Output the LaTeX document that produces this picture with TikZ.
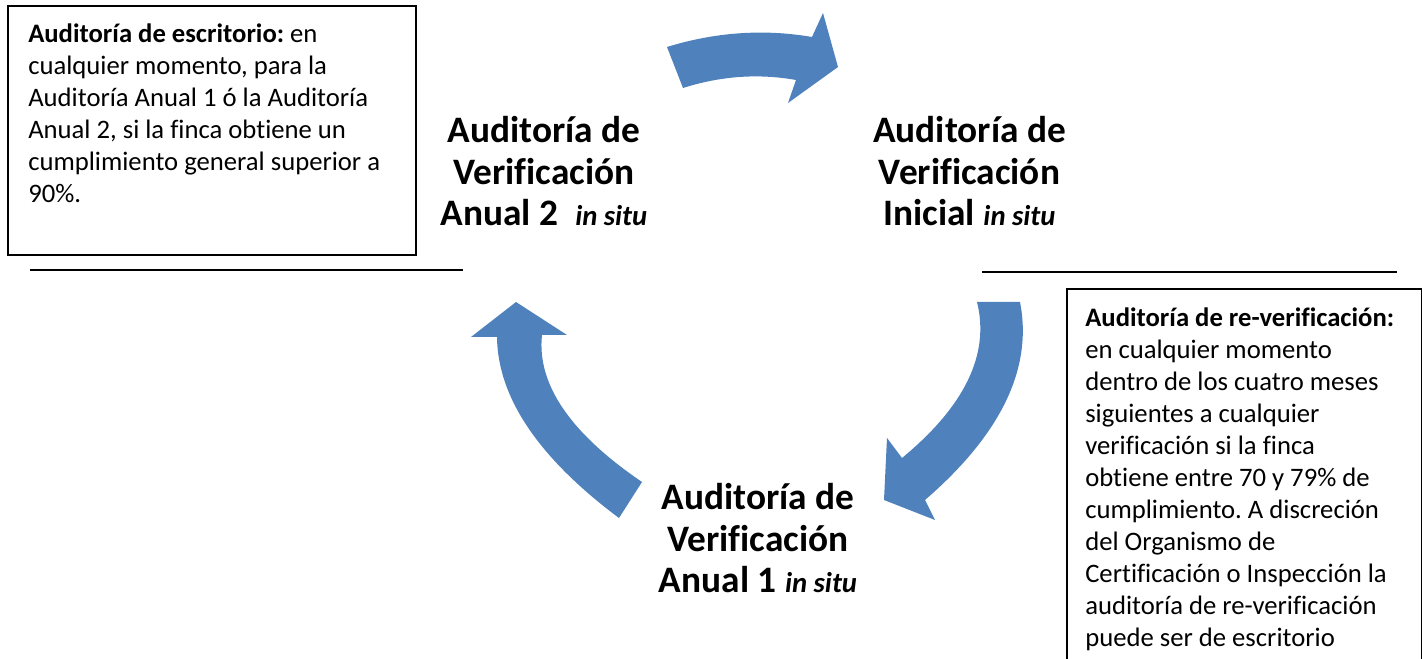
\documentclass[tikz,border=0pt]{standalone}
\usepackage{fontspec}
\setmainfont{Carlito}[Ligatures={NoCommon}]
\definecolor{arrowblue}{HTML}{4F81BD}
\newcommand{\insitu}[1]{{\fontsize{21.5}{24}\selectfont\itshape #1}}
\frenchspacing
\begin{document}
\begin{tikzpicture}[x=0.75pt,y=-0.75pt,
  body/.style={font=\fontsize{20}{24}\selectfont, align=left, anchor=north west, inner sep=0pt},
  big/.style={font=\fontsize{28}{31.3}\selectfont\bfseries, align=center, anchor=north, inner sep=0pt},
  framebox/.style={draw, line width=1.3pt, inner sep=0pt, anchor=north west},
  sepline/.style={line width=1.5pt},
  arrowshape/.style={fill=arrowblue}]
\useasboundingbox (0,0) rectangle (1422,659);
\clip (0,0) rectangle (1422,659);

% boxes
\node[framebox, minimum width=306pt, minimum height=186.75pt] (boxL) at (7,5) {};
\node[framebox, minimum width=266.25pt, minimum height=300pt] (boxR) at (1066,288) {};

\node[body] (txtL) at (28,18) {\rule{0pt}{18pt}\textbf{Auditoría de escritorio:} en\\
cualquier momento, para la\\
Auditoría Anual 1 ó la Auditoría\\
Anual 2, si la finca obtiene un\\
cumplimiento general superior a\\
90\%.};

\node[body] (txtR) at (1085,302) {\rule{0pt}{18pt}\textbf{Auditoría de re-verificación:}\\
en cualquier momento\\
dentro de los cuatro meses\\
siguientes a cualquier\\
verificación si la finca\\
obtiene entre 70 y 79\% de\\
cumplimiento. A discreción\\
del Organismo de\\
Certificación o Inspección la\\
auditoría de re-verificación\\
puede ser de escritorio};

% separator lines
\coordinate (l1a) at (30,270);
\coordinate (l1b) at (463,270);
\coordinate (l2a) at (982,272);
\coordinate (l2b) at (1397,272);
\draw[sepline] (l1a) -- (l1b);
\draw[sepline] (l2a) -- (l2b);

% stage labels
\node[big] (anual2) at (544,108.7) {\rule{0pt}{25pt}Auditoría de\\Verificación\\Anual 2~~\insitu{in situ}};
\node[big] (inicial) at (969.5,108.7) {\rule{0pt}{25pt}Auditoría de\\Verificación\\Inicial \insitu{in situ}};
\node[big] (anual1) at (758,475.7) {\rule{0pt}{25pt}Auditoría de\\Verificación\\Anual 1 \insitu{in situ}};

% curved block arrows
\fill[arrowshape] (667,47) .. controls (715.3,32.1) and (763.7,28.7) .. (812,37)
  -- (823,13) -- (838,67) -- (788,103) -- (796,80)
  .. controls (758.3,73.3) and (720.7,76) .. (683,88) -- cycle;
\fill[arrowshape] (977,302) -- (1020,302)
  .. controls (1033,368) and (1001.3,434) .. (925,500)
  -- (935,520) -- (884,500) -- (887,438) -- (902,458)
  .. controls (965,406) and (990,354) .. (977,302) -- cycle;
\fill[arrowshape] (642,482) -- (619,518)
  .. controls (538.3,457.7) and (497.7,397.3) .. (497,337)
  -- (471,337) -- (516,302) -- (567,335) -- (542,335)
  .. controls (536.7,384) and (570,433) .. (642,482) -- cycle;
\end{tikzpicture}
\end{document}
